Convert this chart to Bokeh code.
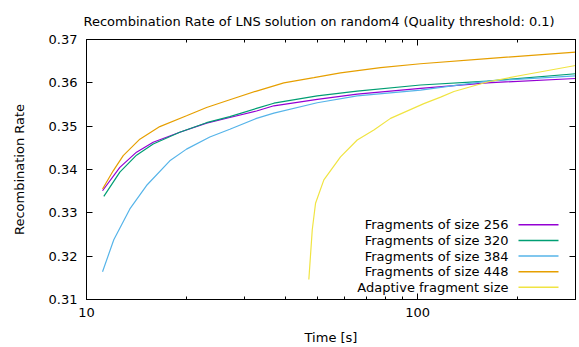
import math
from bokeh.plotting import figure
from bokeh.models import Range1d, FixedTicker, LogAxis, LinearAxis, Label, Arrow
from bokeh.embed import file_html
from bokeh.resources import INLINE

title_text = "Recombination Rate of LNS solution on random4 (Quality threshold: 0.1)"
x_label = "Time [s]"
y_label = "Recombination Rate"
x_major_ticks = [10, 100]
x_tick_labels = ["10", "100"]
x_minor_ticks = [20, 30, 40, 50, 60, 70, 80, 90, 200, 300]
y_ticks = [0.31, 0.32, 0.33, 0.34, 0.35, 0.36, 0.37]
y_tick_labels = ["0.31", "0.32", "0.33", "0.34", "0.35", "0.36", "0.37"]

series_names = ["Fragments of size 256", "Fragments of size 320", "Fragments of size 384",
                "Fragments of size 448", "Adaptive fragment size"]
series_colors = ["#9400d3", "#009e73", "#56b4e9", "#e69f00", "#f0e442"]

t_256 = [11.18, 12.61, 14.16, 15.90, 19.13, 23.05, 27.10, 32.63, 36.81, 49.77, 65.73, 102.1, 162.4, 300]
v_256 = [0.3351, 0.3405, 0.3440, 0.3463, 0.3486, 0.3507, 0.3520, 0.3535, 0.3547, 0.3562, 0.3574, 0.3587, 0.3600, 0.3610]

t_320 = [11.28, 12.61, 14.16, 15.90, 19.13, 23.05, 27.10, 32.63, 36.81, 49.77, 65.73, 102.1, 162.4, 300]
v_320 = [0.3338, 0.3394, 0.3433, 0.3459, 0.3486, 0.3508, 0.3522, 0.3541, 0.3553, 0.3570, 0.3581, 0.3595, 0.3604, 0.3621]

t_384 = [11.18, 12.09, 13.52, 15.18, 17.85, 20.05, 23.58, 27.10, 32.63, 36.81, 49.77, 65.73, 102.1, 162.4, 300]
v_384 = [0.3164, 0.3238, 0.3309, 0.3363, 0.3420, 0.3447, 0.3475, 0.3493, 0.3518, 0.3530, 0.3554, 0.3570, 0.3583, 0.3604, 0.3616]

t_448 = [11.18, 12.04, 12.91, 14.49, 16.65, 20.05, 23.05, 27.10, 32.63, 39.45, 48.62, 58.52, 77.30, 102.1, 162.4, 300]
v_448 = [0.3355, 0.3397, 0.3432, 0.3470, 0.3499, 0.3524, 0.3543, 0.3561, 0.3581, 0.3600, 0.3612, 0.3623, 0.3635, 0.3644, 0.3656, 0.3671]

t_adaptive = [46.95, 48.08, 49.19, 52.12, 58.52, 65.73, 73.79, 82.86, 104.5, 117.4, 128.8, 162.4, 204.7, 300]
v_adaptive = [0.3146, 0.3261, 0.3322, 0.3376, 0.3429, 0.3468, 0.3491, 0.3518, 0.3552, 0.3567, 0.3580, 0.3602, 0.3617, 0.3640]

series_t = [t_256, t_320, t_384, t_448, t_adaptive]
series_v = [v_256, v_320, v_384, v_448, v_adaptive]

FONT = "DejaVu Sans"
FS = "13px"
X0, X1 = 10, 300
Y0, Y1 = 0.31, 0.37
FL, FR, FT, FB = 86, 575, 39, 300

p = figure(width=579, height=347, x_axis_type="log",
           x_range=Range1d(X0, X1), y_range=Range1d(Y0, Y1),
           output_backend="svg", toolbar_location=None,
           min_border_left=FL, min_border_right=579 - FR,
           min_border_top=FT, min_border_bottom=347 - FB)
p.background_fill_color = "white"
p.border_fill_color = "white"
p.outline_line_color = "black"
p.outline_line_width = 1
p.grid.visible = False

p.title.text = title_text
p.title.align = "left"
p.title.offset = -3
p.title.text_font = FONT
p.title.text_font_size = FS
p.title.text_font_style = "normal"
p.title.text_color = "black"
p.title.standoff = 21

def style_axis(ax, labels=True):
    ax.axis_line_color = "black"
    ax.major_tick_line_color = "black"
    ax.minor_tick_line_color = "black"
    ax.major_tick_in = 6
    ax.major_tick_out = 0
    ax.minor_tick_in = 3
    ax.minor_tick_out = 0
    ax.major_label_text_font = FONT
    ax.major_label_text_font_size = FS if labels else "1px"
    ax.major_label_text_color = "black"
    if not labels:
        ax.major_label_text_alpha = 0
    ax.axis_label_text_font = FONT
    ax.axis_label_text_font_size = FS
    ax.axis_label_text_font_style = "normal"
    ax.axis_label_text_color = "black"

xax = p.below[0]
xax.ticker = FixedTicker(ticks=x_major_ticks, minor_ticks=x_minor_ticks)
xax.major_label_overrides = {t: l for t, l in zip(x_major_ticks, x_tick_labels)}
xax.axis_label = x_label
style_axis(xax)
xax.major_label_standoff = 8
xax.axis_label_standoff = 10

yax = p.left[0]
yax.ticker = FixedTicker(ticks=y_ticks, minor_ticks=[])
yax.major_label_overrides = {t: l for t, l in zip(y_ticks, y_tick_labels)}
yax.axis_label = y_label
style_axis(yax)
yax.major_label_standoff = 9
yax.axis_label_standoff = 19

top = LogAxis(ticker=FixedTicker(ticks=x_major_ticks, minor_ticks=x_minor_ticks))
style_axis(top, labels=False)
top.major_label_standoff = 0
p.add_layout(top, "above")

right = LinearAxis(ticker=FixedTicker(ticks=y_ticks, minor_ticks=[]))
style_axis(right, labels=False)
right.major_label_standoff = 0
p.add_layout(right, "right")

for t, v, c in zip(series_t, series_v, series_colors):
    p.line(t, v, line_color=c, line_width=1.2)

# legend (gnuplot style: right-aligned text, sample line on the right)
def px_to_x(px):
    return 10 ** (math.log10(X0) + (px - FL) / (FR - FL) * (math.log10(X1) - math.log10(X0)))

def py_to_y(py):
    return Y1 - (py - FT) / (FB - FT) * (Y1 - Y0)

row0, row_step = 225.0, 15.7
for i, (name, c) in enumerate(zip(series_names, series_colors)):
    yy = py_to_y(row0 + i * row_step)
    p.add_layout(Label(x=px_to_x(508), y=yy, text=name, text_align="right",
                       text_baseline="middle", text_font=FONT, text_font_size=FS,
                       text_color="black"))
    p.add_layout(Arrow(end=None, x_start=px_to_x(518), y_start=yy, x_end=px_to_x(558), y_end=yy,
                       line_color=c, line_width=1.5))

open("out.html", "w").write(file_html(p, INLINE))
